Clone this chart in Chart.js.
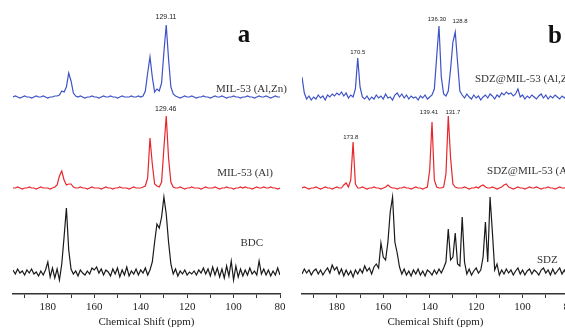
<!doctype html>
<html>

<head>
	<title>13C NMR spectra</title>
	<script src="https://cdn.jsdelivr.net/npm/chart.js@4.4.1/dist/chart.umd.min.js"></script>
	<style>
		body { margin: 0; background: #fff; overflow: hidden; width: 565px; height: 333px; position: relative; }
		canvas { position: absolute; top: 0; }
	</style>
</head>

<body>
	<canvas id="panel-a" width="289" height="333" style="left:0"></canvas>
	<canvas id="panel-b" width="289" height="333" style="left:289px"></canvas>
	<script>
		// chemical shift grid, 195 -> 80 ppm
		var ppm = [
			195, 194, 193, 192, 191, 190, 189, 188, 187, 186,
			185, 184, 183, 182, 181, 180, 179, 178, 177, 176,
			175, 174, 173, 172, 171, 170, 169, 168, 167, 166,
			165, 164, 163, 162, 161, 160, 159, 158, 157, 156,
			155, 154, 153, 152, 151, 150, 149, 148, 147, 146,
			145, 144, 143, 142, 141, 140, 139, 138, 137, 136,
			135, 134, 133, 132, 131, 130, 129, 128, 127, 126,
			125, 124, 123, 122, 121, 120, 119, 118, 117, 116,
			115, 114, 113, 112, 111, 110, 109, 108, 107, 106,
			105, 104, 103, 102, 101, 100, 99, 98, 97, 96,
			95, 94, 93, 92, 91, 90, 89, 88, 87, 86,
			85, 84, 83, 82, 81, 80
		];

		// panel a
		var milAlZn = [
			0, 1, 0, -1, 0, 1, 0, 0, -1, 0,
			1, 0, 0, 1, 0, -1, 0, 0, 1, 1,
			2, 6, 5, 10, 24, 16, 4, 1, 0, 1,
			0, -1, 0, 0, 1, 0, 0, -1, 0, 1,
			0, 0, 1, 0, 0, -1, 0, 1, 0, 0,
			0, 1, 0, 0, 1, 0, 1, 6, 24, 40,
			20, 5, 8, 6, 14, 45, 72, 38, 10, 3,
			1, 0, -1, 0, 1, 0, 0, 1, 0, -1,
			0, 0, 1, 0, 0, -1, 0, 1, 0, 0,
			1, 0, -1, 0, 0, 1, 0, 0, -1, 0,
			0, 1, 0, 0, -1, 0, 1, 0, 0, 1,
			0, -1, 0, 1, 0, 0
		];
		var milAl = [
			0, 0, 1, 0, -1, 0, 0, 1, 0, 0,
			-1, 0, 1, 0, 0, 0, -1, 0, 1, 3,
			12, 17, 8, 3, 4, 4, 1, 0, 0, 1,
			0, 0, -1, 0, 1, 0, 0, 0, -1, 0,
			1, 0, 0, -1, 0, 0, 1, 0, 0, 0,
			-1, 0, 1, 0, 0, 0, 1, 2, 10, 50,
			24, 4, 2, 1, 6, 40, 72, 30, 6, 1,
			0, 0, 1, 0, -1, 0, 0, 1, 0, 0,
			0, -1, 0, 1, 0, 0, 0, 1, 0, -1,
			0, 0, 1, 0, 0, -1, 0, 0, 1, 0,
			1, 0, 0, -1, 0, 1, 0, 0, 1, 0,
			0, 1, 0, 0, -1, 0
		];
		var bdc = [
			2, -2, 3, -1, 1, -3, 2, -1, 3, -2,
			0, -4, 1, -3, 2, 10, -5, 4, -6, 3,
			-8, 8, 35, 64, 22, 3, -2, 1, -4, 2,
			-1, -3, 1, -2, 4, 2, 5, -1, 3, -3,
			2, 0, -4, 3, -2, 4, -5, 2, -3, 5,
			-4, 1, -2, 3, -3, 2, -1, 4, -3, 2,
			10, 30, 48, 44, 55, 75, 58, 30, 8, -2,
			3, -4, 1, -2, 2, -3, 0, -2, 1, -3,
			2, -1, 4, -2, 3, -4, 5, -3, 4, -5,
			3, -6, 6, -4, 11, -8, 6, -5, 3, -4,
			2, -3, 4, -2, 1, -3, 11, -2, 3, -3,
			2, -4, 1, -3, 4, -3
		];

		// panel b
		var sdzMilAlZn = [
			20, 4, -2, 1, -3, 0, -2, 2, -1, 1,
			-3, 2, 0, 3, 1, 4, 2, 5, 1, 4,
			-1, 2, 0, 8, 39, 10, 0, -2, 1, -3,
			0, -2, 2, -1, 1, -2, 3, -1, 0, -3,
			2, 4, 0, 3, -1, 2, -2, 1, -1, 0,
			-3, 1, -1, 2, -2, 0, 2, 8, 40, 71,
			20, 3, 1, 6, 28, 55, 65, 35, 6, 2,
			-1, 3, 0, -2, 2, -1, 1, -3, 0, 2,
			-1, 3, 1, -2, 2, 0, 4, 2, 5, 3,
			4, 1, 3, 8, 0, 2, -2, 1, -1, 2,
			0, -2, 1, 3, -1, 2, -2, 1, -1, 2,
			0, -2, 1, -1, 2, 0
		];
		var sdzMilAl = [
			0, 1, 0, -1, 0, 0, 1, 0, -1, 0,
			1, 0, 0, -1, 0, 1, 0, 0, 3, 5,
			1, 8, 46, 4, 0, 0, 1, 0, -1, 0,
			0, 1, 0, 0, -1, 0, 1, 3, 1, 0,
			0, -1, 0, 0, 1, 0, 0, -1, 0, 1,
			0, 0, -1, 0, 1, 18, 66, 8, 1, 0,
			0, 1, 14, 72, 30, 4, 1, 0, 0, 0,
			1, 0, -1, 0, 0, 1, 0, 2, 3, 1,
			0, 0, 1, 0, -1, 0, 1, 3, 4, 1,
			0, -1, 0, 1, 0, 0, -1, 0, 1, 0,
			0, 1, 0, -1, 0, 0, 1, 0, 0, -1,
			0, 1, 0, 0, 1, 0
		];
		var sdz = [
			-2, 3, -1, 2, -3, 1, 3, -2, 2, -3,
			1, 4, -1, 7, 2, 5, -2, 3, -4, 2,
			-3, 1, -5, 2, -2, 3, -1, 6, 1, 4,
			-2, 5, 8, 4, 29, 15, 12, 30, 60, 75,
			30, 19, 5, -2, 3, -3, 1, -4, 2, -2,
			3, -3, 1, -4, 2, 0, -3, 2, -2, 3,
			-1, 4, 10, 43, 12, 15, 39, 8, 6, 55,
			10, -2, 3, -3, 1, 4, -1, 2, 15, 50,
			10, 75, 40, 2, 8, -3, 2, -2, 3, -1,
			2, -3, 1, 4, -2, 2, -3, 1, 3, -2,
			2, 0, -3, 2, 4, -1, 2, -3, 3, -2,
			1, 4, -2, 2, -3, 1
		];

		var seriesNames = ['MIL-53 (Al,Zn)', 'MIL-53 (Al)', 'BDC'];
		var seriesNamesB = ['SDZ@MIL-53 (Al,Zn)', 'SDZ@MIL-53 (Al)', 'SDZ'];

		var colors = ['#3d52c6', '#e8262b', '#1a1a1a'];
		var stackOffset = [197, 106, 22];

		function makeDataset(values, idx, name) {
			var pts = [];
			for (var i = 0; i < ppm.length; i++) {
				pts.push({ x: ppm[i], y: stackOffset[idx] + values[i] });
			}
			return {
				label: name,
				data: pts,
				borderColor: colors[idx],
				borderWidth: 1.2,
				pointRadius: 0,
				tension: 0,
				fill: false
			};
		}

		// draws peak values, sample names and the panel letter
		var textLabels = {
			id: 'textLabels',
			afterDatasetsDraw: function(chart, args, opts) {
				var ctx = chart.ctx;
				var xs = chart.scales.x, ys = chart.scales.y;
				ctx.save();
				opts.items.forEach(function(it) {
					ctx.font = it.font;
					ctx.fillStyle = it.color || '#222';
					ctx.textAlign = it.align || 'center';
					ctx.textBaseline = 'middle';
					ctx.fillText(it.text, xs.getPixelForValue(it.ppm), ys.getPixelForValue(it.y));
				});
				ctx.restore();
			}
		};

		var peakFont = '7px "Liberation Sans", Arial, sans-serif';
		var peakFontB = '6px "Liberation Sans", Arial, sans-serif';
		var nameFont = '11px "Liberation Serif", "Times New Roman", serif';
		var letterFont = 'bold 25px "Liberation Serif", "Times New Roman", serif';

		function makeConfig(datasets, items) {
			return {
				type: 'line',
				data: { datasets: datasets },
				options: {
					responsive: false,
					animation: false,
					layout: { padding: { left: 13, right: 9, top: 0, bottom: 0 } },
					plugins: {
						legend: { display: false },
						tooltip: { enabled: false },
						textLabels: { items: items }
					},
					scales: {
						x: {
							type: 'linear',
							min: 80,
							max: 195,
							reverse: true,
							afterFit: function(scale) { scale.height = 39; },
							border: { display: true, color: '#333', width: 1.5 },
							grid: { drawOnChartArea: false, drawTicks: true, tickLength: 4, tickColor: '#333' },
							ticks: {
								stepSize: 10,
								includeBounds: false,
								autoSkip: false,
								maxRotation: 0,
								padding: 3,
								color: '#222',
								font: { family: '"Liberation Serif", "Times New Roman", serif', size: 11 },
								callback: function(v) { return v % 20 === 0 ? v : ''; }
							},
							title: {
								display: true,
								text: 'Chemical Shift (ppm)',
								color: '#222',
								font: { family: '"Liberation Serif", "Times New Roman", serif', size: 11 },
								padding: { top: 0, bottom: 4 }
							}
						},
						y: { display: false, min: 0, max: 294 }
					}
				},
				plugins: [textLabels]
			};
		}

		var itemsA = [
			{ text: '129.11', ppm: 129.1, y: 277, font: peakFont },
			{ text: '129.46', ppm: 129.2, y: 185, font: peakFont },
			{ text: seriesNames[0], ppm: 77.0, y: 205, font: nameFont, align: 'right', color: '#333' },
			{ text: seriesNames[1], ppm: 83.0, y: 121, font: nameFont, align: 'right', color: '#333' },
			{ text: seriesNames[2], ppm: 87.3, y: 51, font: nameFont, align: 'right', color: '#333' },
			{ text: 'a', ppm: 95.5, y: 258, font: letterFont, color: '#111' }
		];
		var itemsB = [
			{ text: '170.5', ppm: 171, y: 242, font: peakFontB },
			{ text: '136.30', ppm: 136.9, y: 275, font: peakFontB },
			{ text: '128.8', ppm: 126.9, y: 273, font: peakFontB },
			{ text: '173.8', ppm: 174, y: 157, font: peakFontB },
			{ text: '139.41', ppm: 140.3, y: 182, font: peakFontB },
			{ text: '131.7', ppm: 130, y: 182, font: peakFontB },
			{ text: seriesNamesB[0], ppm: 120.5, y: 215, font: nameFont, align: 'left', color: '#333' },
			{ text: seriesNamesB[1], ppm: 115.3, y: 123, font: nameFont, align: 'left', color: '#333' },
			{ text: seriesNamesB[2], ppm: 93.8, y: 34, font: nameFont, align: 'left', color: '#333' },
			{ text: 'b', ppm: 86, y: 257, font: letterFont, color: '#111' }
		];

		var dsA = [
			makeDataset(milAlZn, 0, seriesNames[0]),
			makeDataset(milAl, 1, seriesNames[1]),
			makeDataset(bdc, 2, seriesNames[2])
		];
		var dsB = [
			makeDataset(sdzMilAlZn, 0, seriesNamesB[0]),
			makeDataset(sdzMilAl, 1, seriesNamesB[1]),
			makeDataset(sdz, 2, seriesNamesB[2])
		];

		new Chart(document.getElementById('panel-a').getContext('2d'), makeConfig(dsA, itemsA));
		new Chart(document.getElementById('panel-b').getContext('2d'), makeConfig(dsB, itemsB));
	</script>
</body>

</html>
